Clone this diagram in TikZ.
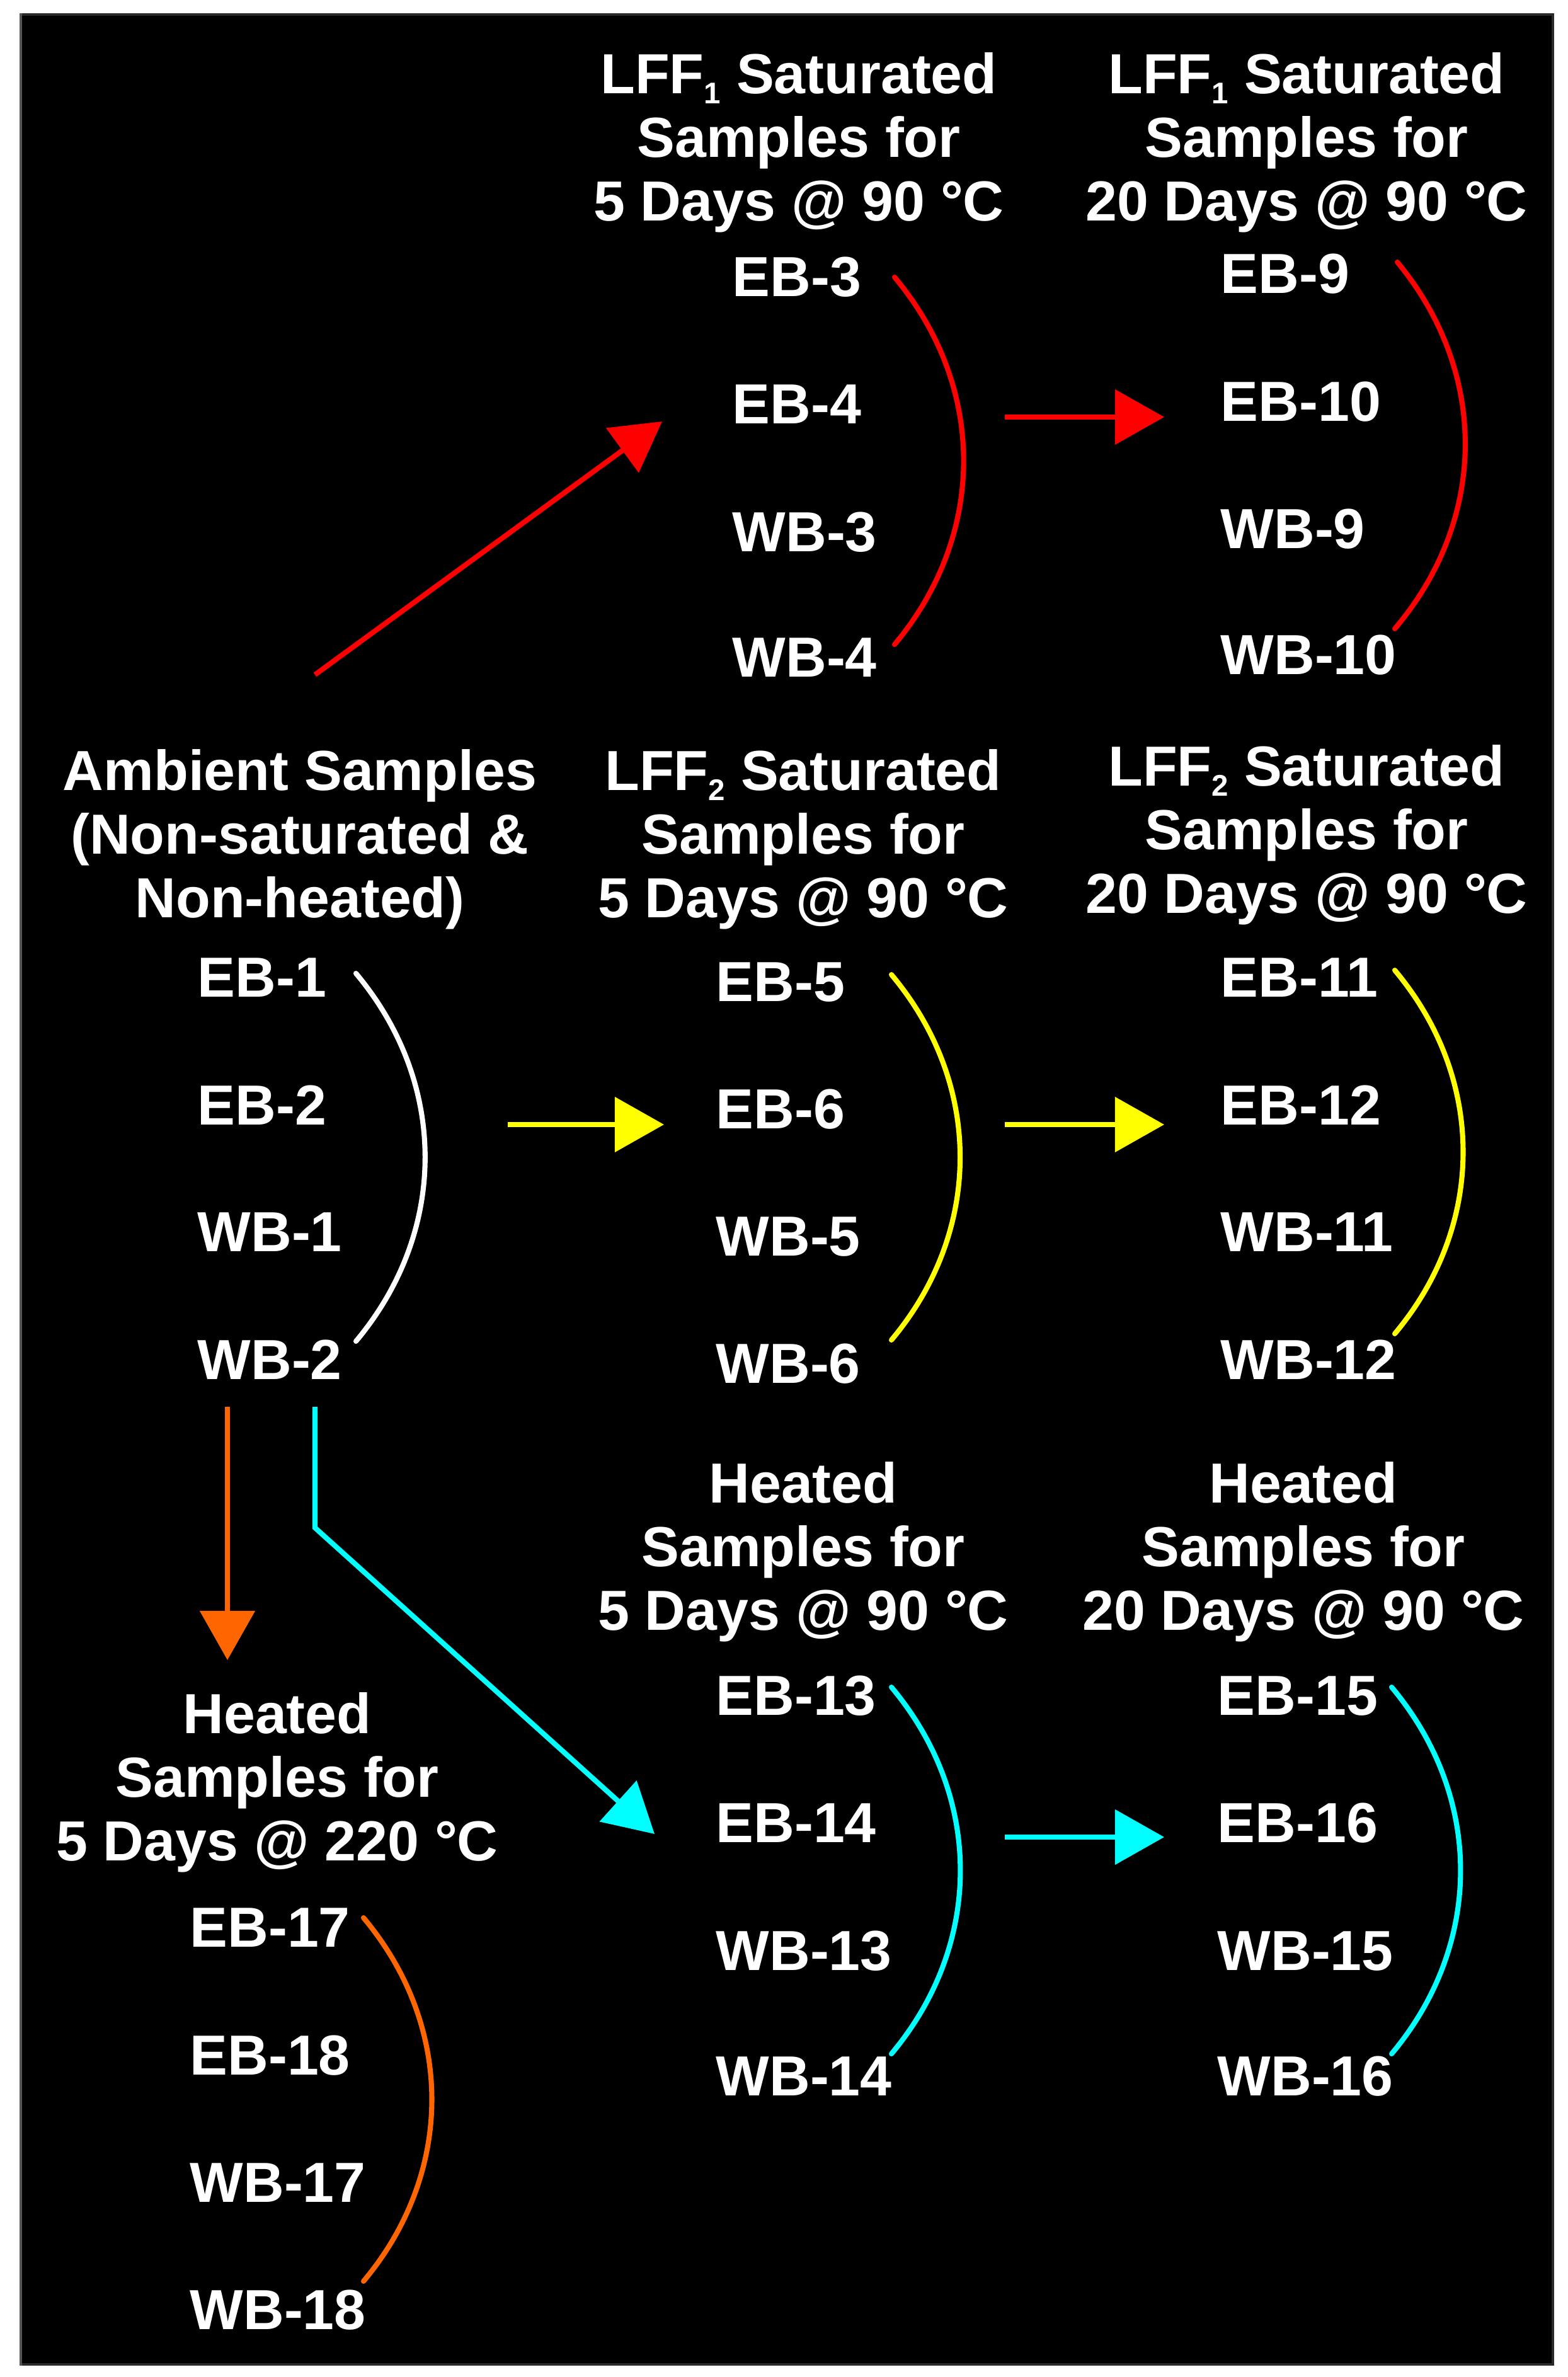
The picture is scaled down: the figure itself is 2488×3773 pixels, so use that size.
\documentclass[tikz,border=0pt]{standalone}
\usepackage{fontspec}
\setmainfont{Liberation Sans}
\usetikzlibrary{arrows.meta}
\definecolor{orng}{RGB}{255,102,0}
\definecolor{redc}{RGB}{255,0,0}
\definecolor{yelc}{RGB}{255,255,0}
\definecolor{cyac}{RGB}{0,255,255}
\definecolor{bordL}{HTML}{555555}
\definecolor{bordD}{HTML}{2A2A2A}
\newcommand{\lffsub}[1]{\raisebox{-4.6pt}{\fontsize{13.5}{13.5}\selectfont #1}}
\tikzset{
  lbl/.style={text=white, font=\bfseries\fontsize{25.5}{28.7}\selectfont, inner sep=0pt},
  hdr/.style={lbl, align=center},
  item/.style={lbl, anchor=west},
  brace/.style={line width=2.3pt, line cap=round},
  arr/.style={line width=2.3pt, -{Triangle[length=7.8mm,width=8.6mm]}},
}
\begin{document}
\begin{tikzpicture}[x=0.01cm, y=-0.01cm]
\useasboundingbox (0,0) rectangle (2488,3773);
\fill[white] (0,0) rectangle (2488,3773);
\fill[black] (31,21) rectangle (2467,3755);
\fill[bordD] (31,21) rectangle (2467,25);
\fill[bordD] (31,3751) rectangle (2467,3755);
\fill[bordD] (2463,21) rectangle (2467,3755);
\fill[bordL] (31,21) rectangle (35,3755);

% ---- LFF1 5 days
\node[hdr] (hA) at (1268,226) {LFF\lffsub{1} Saturated\\Samples for\\5 Days @ 90 °C};
\node[item] (eb3) at (1162,440) {EB-3};
\node[item] (eb4) at (1162,642) {EB-4};
\node[item] (wb3) at (1162,845) {WB-3};
\node[item] (wb4) at (1162,1044) {WB-4};
% ---- LFF1 20 days
\node[hdr] (hB) at (2074,226) {LFF\lffsub{1} Saturated\\Samples for\\20 Days @ 90 °C};
\node[item] (eb9) at (1937,435) {EB-9};
\node[item] (eb10) at (1937,638) {EB-10};
\node[item] (wb9) at (1937,840) {WB-9};
\node[item] (wb10) at (1937,1040) {WB-10};
% ---- Ambient
\node[hdr] (hC) at (476,1332) {Ambient Samples\\(Non-saturated \&\\Non-heated)};
\node[item] (eb1) at (313,1552) {EB-1};
\node[item] (eb2) at (313,1754) {EB-2};
\node[item] (wb1) at (313,1956) {WB-1};
\node[item] (wb2) at (313,2158) {WB-2};
% ---- LFF2 5 days
\node[hdr] (hD) at (1275,1332) {LFF\lffsub{2} Saturated\\Samples for\\5 Days @ 90 °C};
\node[item] (eb5) at (1136,1559) {EB-5};
\node[item] (eb6) at (1136,1761) {EB-6};
\node[item] (wb5) at (1136,1963) {WB-5};
\node[item] (wb6) at (1136,2165) {WB-6};
% ---- LFF2 20 days
\node[hdr] (hE) at (2074,1325) {LFF\lffsub{2} Saturated\\Samples for\\20 Days @ 90 °C};
\node[item] (eb11) at (1937,1552) {EB-11};
\node[item] (eb12) at (1937,1754) {EB-12};
\node[item] (wb11) at (1937,1956) {WB-11};
\node[item] (wb12) at (1937,2158) {WB-12};
% ---- Heated 5 days
\node[hdr] (hF) at (1275,2463) {Heated\\Samples for\\5 Days @ 90 °C};
\node[item] (eb13) at (1136,2692) {EB-13};
\node[item] (eb14) at (1136,2894) {EB-14};
\node[item] (wb13) at (1136,3097) {WB-13};
\node[item] (wb14) at (1136,3296) {WB-14};
% ---- Heated 20 days
\node[hdr] (hG) at (2069,2463) {Heated\\Samples for\\20 Days @ 90 °C};
\node[item] (eb15) at (1932,2692) {EB-15};
\node[item] (eb16) at (1932,2894) {EB-16};
\node[item] (wb15) at (1932,3097) {WB-15};
\node[item] (wb16) at (1932,3296) {WB-16};
% ---- Heated 220
\node[hdr] (hH) at (440,2829) {Heated\\Samples for\\5 Days @ 220 °C};
\node[item] (eb17) at (301,3060) {EB-17};
\node[item] (eb18) at (301,3263) {EB-18};
\node[item] (wb17) at (301,3465) {WB-17};
\node[item] (wb18) at (301,3667) {WB-18};

% ---- brace coordinates
\coordinate (At) at (1420,440);  \coordinate (Ab) at (1420,1023);
\coordinate (Bt) at (2218,416);  \coordinate (Bb) at (2214,998);
\coordinate (Ct) at (565,1545);  \coordinate (Cb) at (565,2129);
\coordinate (Dt) at (1415,1547); \coordinate (Db) at (1415,2127);
\coordinate (Et) at (2214,1540); \coordinate (Eb) at (2214,2117);
\coordinate (Ft) at (1415,2678); \coordinate (Fb) at (1415,3260);
\coordinate (Gt) at (2209,2678); \coordinate (Gb) at (2209,3260);
\coordinate (Ht) at (577,3044);  \coordinate (Hb) at (577,3621);

\draw[brace, redc]   (At) to[bend left=40] (Ab);
\draw[brace, redc]   (Bt) to[bend left=40] (Bb);
\draw[brace, white]  (Ct) to[bend left=40] (Cb);
\draw[brace, yelc]   (Dt) to[bend left=40] (Db);
\draw[brace, yelc]   (Et) to[bend left=40] (Eb);
\draw[brace, cyac]   (Ft) to[bend left=40] (Fb);
\draw[brace, cyac]   (Gt) to[bend left=40] (Gb);
\draw[brace, orng]   (Ht) to[bend left=40] (Hb);

% ---- arrow coordinates
\coordinate (r1s) at (500,1071);  \coordinate (r1e) at (1051,669);
\coordinate (r2s) at (1595,662);  \coordinate (r2e) at (1848,662);
\coordinate (y1s) at (806,1785);  \coordinate (y1e) at (1054,1785);
\coordinate (y2s) at (1595,1785); \coordinate (y2e) at (1848,1785);
\coordinate (c2s) at (1595,2916); \coordinate (c2e) at (1848,2916);
\coordinate (o1s) at (361,2233);  \coordinate (o1e) at (361,2635);
\coordinate (c1s) at (500,2233);  \coordinate (c1m) at (500,2425);
\coordinate (c1e) at (1039,2911);

\draw[arr, redc]   (r1s) -- (r1e);
\draw[arr, redc]   (r2s) -- (r2e);
\draw[arr, yelc]   (y1s) -- (y1e);
\draw[arr, yelc]   (y2s) -- (y2e);
\draw[arr, cyac]   (c2s) -- (c2e);
\draw[arr, orng]   (o1s) -- (o1e);
\draw[arr, cyac]   (c1s) -- (c1m) -- (c1e);
\end{tikzpicture}
\end{document}
